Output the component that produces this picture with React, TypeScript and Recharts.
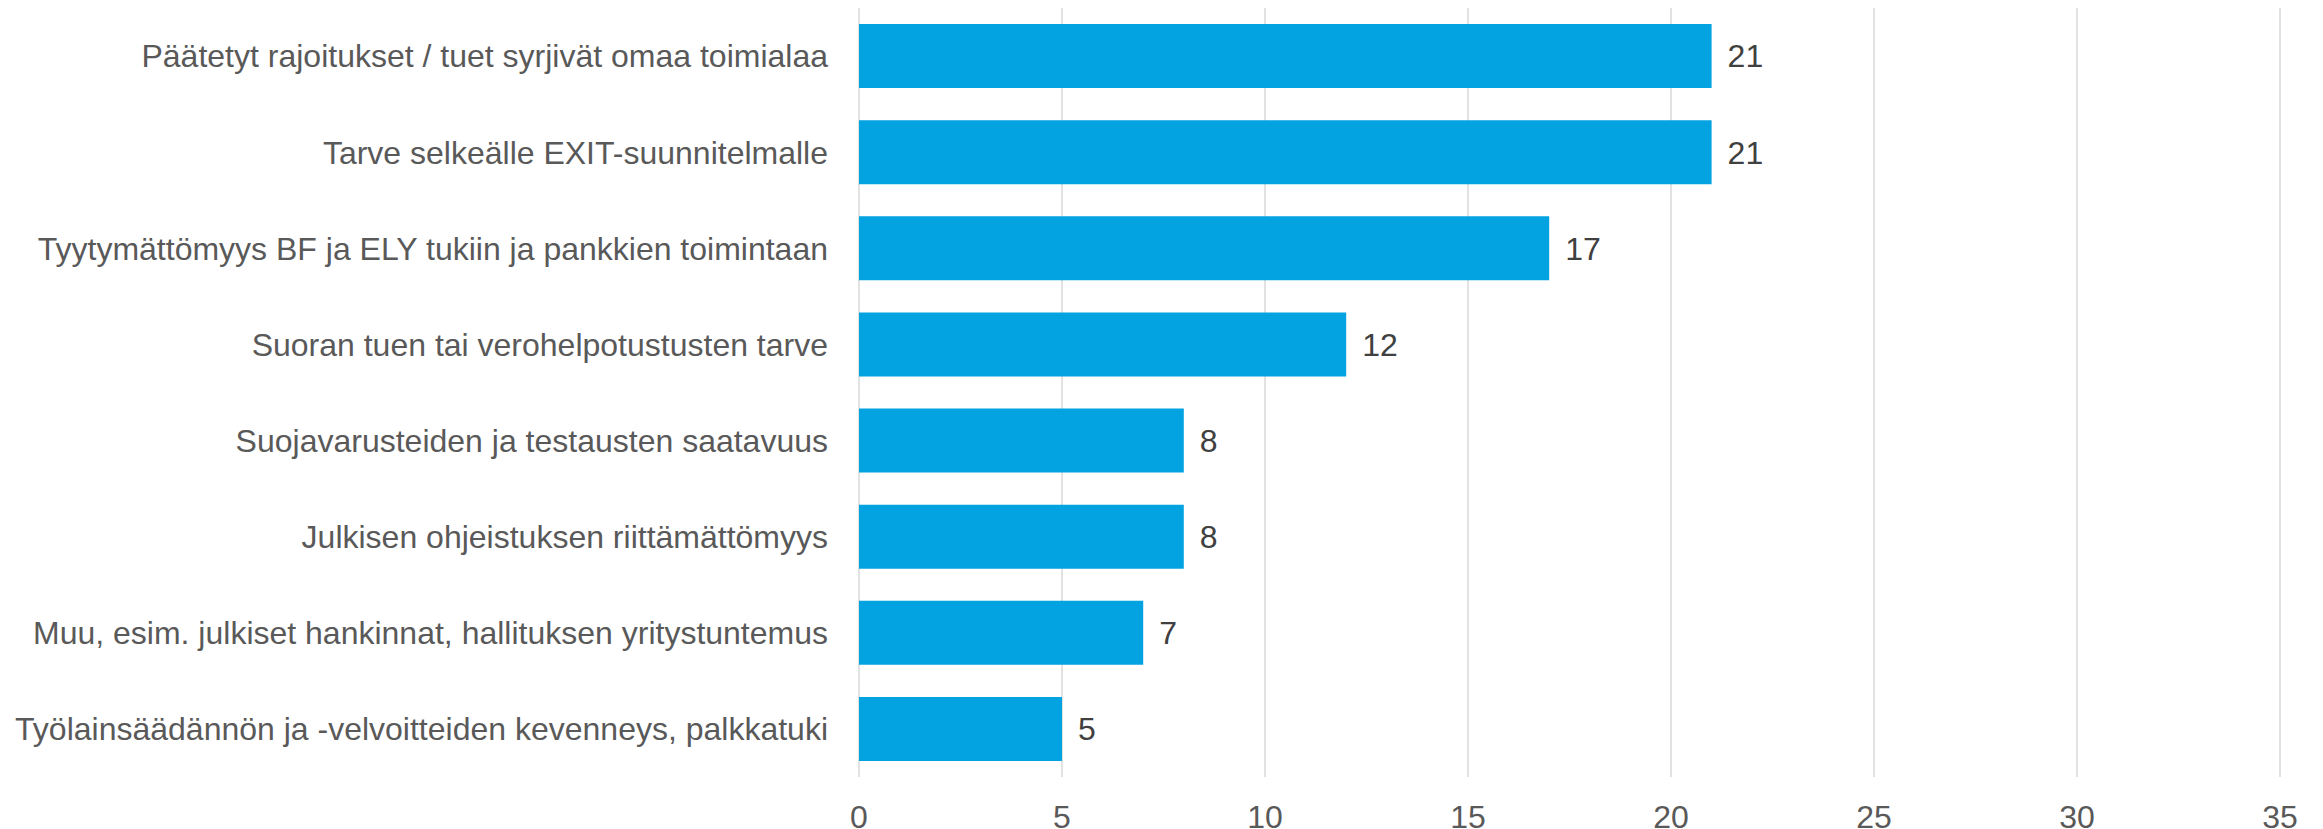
import React from "react";
import { BarChart, Bar, XAxis, YAxis, CartesianGrid, LabelList } from "recharts";

const categories = [
  "Päätetyt rajoitukset / tuet syrjivät omaa toimialaa",
  "Tarve selkeälle EXIT-suunnitelmalle",
  "Tyytymättömyys BF ja ELY tukiin ja pankkien toimintaan",
  "Suoran tuen tai verohelpotustusten tarve",
  "Suojavarusteiden ja testausten saatavuus",
  "Julkisen ohjeistuksen riittämättömyys",
  "Muu, esim. julkiset hankinnat, hallituksen yritystuntemus",
  "Työlainsäädännön ja -velvoitteiden kevenneys, palkkatuki",
];
const values = [21, 21, 17, 12, 8, 8, 7, 5];
const xTicks = [0, 5, 10, 15, 20, 25, 30, 35];

const data = categories.map((name, i) => ({ name, value: values[i] }));

const FONT = "'Liberation Sans', Arial, sans-serif";

export default function App() {
  return (
    <div style={{ position: "absolute", left: 0, top: 0, width: 2323, height: 829, background: "#fff" }}>
      <BarChart
        width={2323}
        height={829}
        data={data}
        layout="vertical"
        margin={{ top: 8, right: 43, bottom: 0, left: 0 }}
        barCategoryGap="16.7%"
      >
        <CartesianGrid horizontal={false} vertical={true} stroke="#d9d9d9" strokeWidth={1.5} />
        <XAxis
          type="number"
          domain={[0, 35]}
          ticks={xTicks}
          axisLine={false}
          tickLine={false}
          tickSize={0}
          tickMargin={28}
          height={52}
          interval={0}
          tick={{ fill: "#595959", fontSize: 32, fontFamily: FONT }}
        />
        <YAxis
          type="category"
          dataKey="name"
          width={859}
          axisLine={false}
          tickLine={false}
          tickSize={0}
          tickMargin={31}
          interval={0}
          tick={{ fill: "#595959", fontSize: 32, fontFamily: FONT }}
        />
        <Bar dataKey="value" fill="#03a2e0" isAnimationActive={false}>
          <LabelList
            dataKey="value"
            position="right"
            offset={16}
            fill="#404040"
            fontSize={32}
            fontFamily={FONT}
          />
        </Bar>
      </BarChart>
    </div>
  );
}
